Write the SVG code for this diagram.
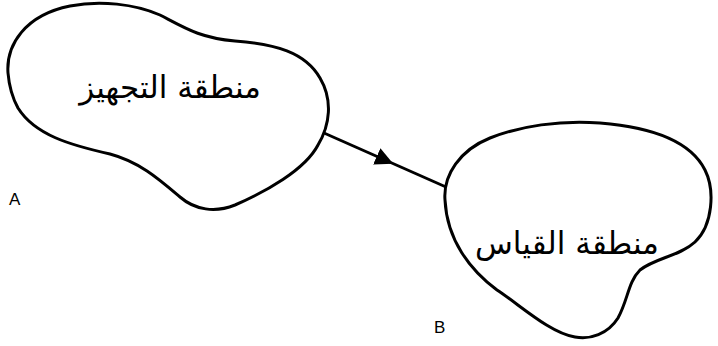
<svg xmlns="http://www.w3.org/2000/svg" width="718" height="346" viewBox="0 0 718 346">
<defs>
<style>
.blob{fill:#fff;stroke:#000;stroke-width:3;stroke-linejoin:round}
.edge{fill:none;stroke:#000;stroke-width:3}
.ar{font-family:"DejaVu Sans",sans-serif;font-size:31px;fill:#000}
.lbl{font-family:"Liberation Sans",sans-serif;font-size:17px;fill:#000}
</style>
<marker id="mid" viewBox="0 0 10 10" refX="5" refY="5" markerWidth="6" markerHeight="6" markerUnits="strokeWidth" orient="auto">
<path d="M0,0 L10,5 L0,10 Z" fill="#000"/>
</marker>
</defs>
<rect width="718" height="346" fill="#fff"/>
<g id="connectors">
<polyline class="edge" points="324,133 385,160 446,187" marker-mid="url(#mid)"/>
</g>
<g id="nodeA">
<path class="blob" d="M 8,73 C 6,45 25,15 70,6 C 100,0 135,4 160,15 C 185,28 200,38 235,41 C 275,44 305,52 320,78 C 333,100 330,125 318,145 C 305,170 265,192 235,205 C 215,213 195,210 180,197 C 160,180 140,162 110,154 C 70,145 35,135 18,108 C 12,97 9,85 8,73 Z"/>
<text class="ar" x="170" y="98" text-anchor="middle" direction="rtl">منطقة التجهيز</text>
</g>
<g id="nodeB">
<path class="blob" d="M 445,200 C 443,175 460,150 490,138 C 520,126 560,120 600,123 C 650,127 690,140 705,170 C 715,190 713,225 695,242 C 680,256 655,258 640,270 C 628,282 628,300 618,318 C 608,334 590,340 575,337 C 550,333 520,305 497,290 C 470,270 447,240 445,200 Z"/>
<text class="ar" x="567" y="254" text-anchor="middle" direction="rtl">منطقة القياس</text>
</g>
<text class="lbl" x="9" y="205">A</text>
<text class="lbl" x="434" y="333">B</text>
</svg>
